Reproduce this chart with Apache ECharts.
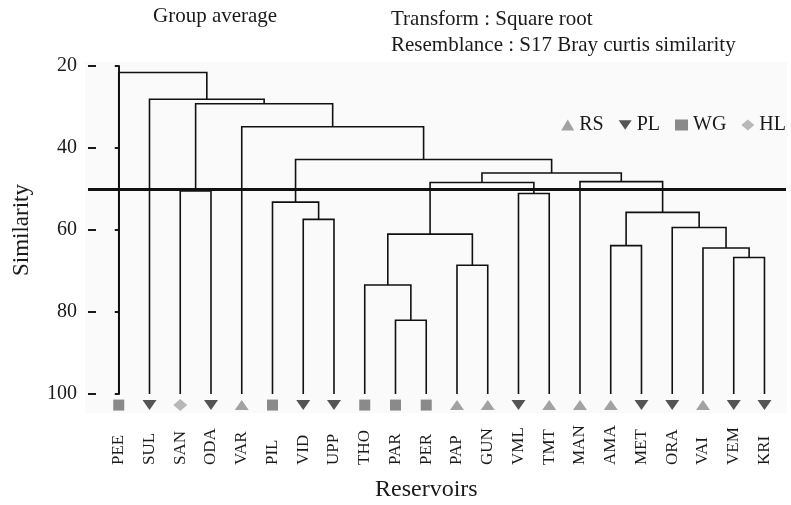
<!DOCTYPE html>
<html>
<head>
<meta charset="utf-8">
<script src="https://cdn.jsdelivr.net/npm/echarts@6/dist/echarts.min.js"></script>
<style>
  html, body { margin: 0; padding: 0; background: #fff; }
  #chart { width: 791px; height: 505px; }
</style>
</head>
<body>
<div id="chart"></div>
<script>
// leaves, left to right
const leafNames = ['PEE', 'SUL', 'SAN', 'ODA', 'VAR', 'PIL', 'VID', 'UPP', 'THO', 'PAR', 'PER',
  'PAP', 'GUN', 'VML', 'TMT', 'MAN', 'AMA', 'MET', 'ORA', 'VAI', 'VEM', 'KRI'];
const leafGroups = ['WG', 'PL', 'HL', 'PL', 'RS', 'WG', 'PL', 'PL', 'WG', 'WG', 'WG',
  'RS', 'RS', 'PL', 'RS', 'RS', 'RS', 'PL', 'PL', 'RS', 'PL', 'PL'];

// merges (linkage): node ids 0-21 are leaves, merge k creates node 22 + k
const mergeLeft = [9, 8, 11, 20, 19, 16, 23, 18, 6, 27, 5, 13, 2, 28, 15, 35, 32, 4, 34, 1, 0];
const mergeRight = [10, 22, 12, 21, 25, 17, 24, 26, 7, 29, 30, 14, 3, 33, 31, 36, 37, 38, 39, 40, 41];
const mergeLevel = [82.0, 73.4, 68.6, 66.7, 64.4, 63.8, 61.0, 59.4, 57.4, 55.7, 53.2, 51.1, 50.5,
  48.4, 48.2, 46.1, 42.8, 34.8, 29.2, 28.1, 21.6];

const groups = ['RS', 'PL', 'WG', 'HL'];
const cutLevel = 50;

const MARKER_LEVEL = 102.7;
const FONT = 'Liberation Serif';
const INK = '#1a1a1a';

let nodeX = leafNames.map((n, i) => i);
let nodeLevel = leafNames.map(() => 100);
let links = [];
for (let k = 0; k < mergeLeft.length; k++) {
  let a = mergeLeft[k], b = mergeRight[k];
  links.push([nodeX[a], nodeLevel[a], nodeX[b], nodeLevel[b], mergeLevel[k]]);
  nodeX.push((nodeX[a] + nodeX[b]) / 2);
  nodeLevel.push(mergeLevel[k]);
}

const markerStyle = {
  RS: { symbol: 'triangle', symbolSize: [14, 10], color: '#8c8c8c' },
  PL: { symbol: 'path://M0,0L14,0L7,10Z', symbolSize: [14, 10], color: '#2b2b2b' },
  WG: { symbol: 'rect', symbolSize: [11, 11], color: '#6e6e6e' },
  HL: { symbol: 'diamond', symbolSize: [14, 12], color: '#a8a8a8' }
};

let markerSeries = groups.map(g => ({
  name: g,
  type: 'scatter',
  symbol: markerStyle[g].symbol,
  symbolSize: markerStyle[g].symbolSize,
  itemStyle: { color: markerStyle[g].color },
  clip: false,
  silent: true,
  data: leafNames.map((n, i) => leafGroups[i] === g ? [i, MARKER_LEVEL] : null).filter(d => d)
}));

let chart = echarts.init(document.getElementById('chart'));
chart.setOption({
  animation: false,
  textStyle: { fontFamily: FONT, color: INK },
  graphic: [{
    type: 'rect', z: -10, silent: true,
    shape: { x: 85, y: 62, width: 702, height: 351 },
    style: { fill: '#fafafa' }
  }],
  title: [{
    text: 'Group average', left: 153, top: 6, padding: 0,
    textStyle: { fontFamily: FONT, fontSize: 21, fontWeight: 'normal', color: INK }
  }, {
    text: 'Transform : Square root\nResemblance : S17 Bray curtis similarity', left: 391, top: 6, padding: 0,
    textStyle: { fontFamily: FONT, fontSize: 21, fontWeight: 'normal', color: INK, lineHeight: 26 }
  }, {
    text: 'Reservoirs', left: 375, top: 478, padding: 0,
    textStyle: { fontFamily: FONT, fontSize: 24, fontWeight: 'normal', color: INK }
  }],
  legend: {
    data: groups,
    right: 0, top: 110,
    itemWidth: 13, itemHeight: 11, itemGap: 15,
    textStyle: { fontFamily: FONT, fontSize: 20, color: INK }
  },
  grid: { left: 88, top: 66, width: 698, height: 328 },
  xAxis: {
    type: 'value', min: -1, max: 21.7, interval: 1,
    axisLine: { show: false }, axisTick: { show: false }, splitLine: { show: false },
    axisLabel: {
      rotate: 90, align: 'left', verticalAlign: 'middle', margin: 71,
      fontFamily: FONT, fontSize: 17, color: INK,
      formatter: v => {
        let i = Math.round(v);
        return Math.abs(v - i) < 1e-6 && i >= 0 && i < leafNames.length ? leafNames[i] : '';
      }
    }
  },
  yAxis: [{
    type: 'value', position: 'left', inverse: true, min: 20, max: 100, interval: 20,
    name: 'Similarity', nameLocation: 'middle', nameGap: 55,
    nameTextStyle: { fontFamily: FONT, fontSize: 23, color: INK },
    axisLine: { show: true, lineStyle: { color: INK, width: 2 } },
    axisTick: { show: true, length: 4, lineStyle: { color: INK, width: 2 } },
    axisLabel: { margin: 11, fontFamily: FONT, fontSize: 20, color: INK },
    splitLine: { show: false }
  }, {
    type: 'value', position: 'left', offset: 0, inverse: true, min: 20, max: 100, interval: 20,
    axisLine: { show: false },
    axisTick: { show: true, inside: true, length: 8, lineStyle: { color: INK, width: 2 } },
    axisLabel: { show: false },
    splitLine: { show: false }
  }],
  series: [{
    type: 'custom',
    silent: true,
    encode: { x: [0, 2], y: [1, 3, 4] },
    renderItem: (params, api) => {
      let p1 = api.coord([api.value(0), api.value(1)]);
      let p2 = api.coord([api.value(0), api.value(4)]);
      let p3 = api.coord([api.value(2), api.value(4)]);
      let p4 = api.coord([api.value(2), api.value(3)]);
      return {
        type: 'polyline',
        shape: { points: [p1, p2, p3, p4] },
        style: { stroke: '#111', lineWidth: 1.6, fill: null }
      };
    },
    data: links,
    markLine: {
      silent: true,
      symbol: ['none', 'none'],
      label: { show: false },
      lineStyle: { color: '#111', width: 3, type: 'solid' },
      data: [{ yAxis: cutLevel }]
    }
  }].concat(markerSeries)
});
</script>
</body>
</html>
